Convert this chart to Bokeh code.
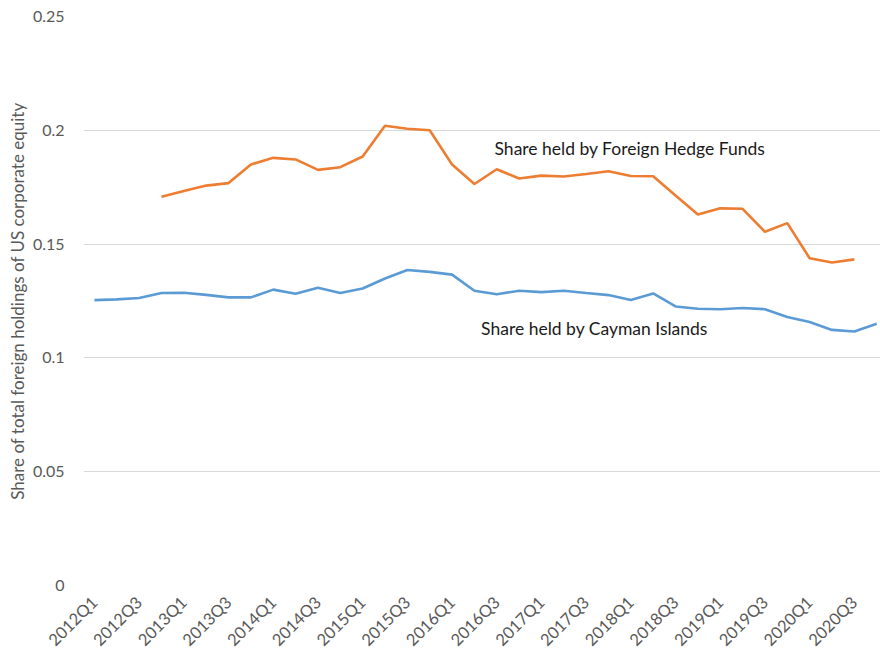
import math
from bokeh.plotting import figure
from bokeh.models import FixedTicker, Label
from bokeh.embed import file_html
from bokeh.resources import INLINE

quarters = [f"{y}Q{q}" for y in range(2012, 2021) for q in range(1, 5)]

cayman = [0.1254, 0.1257, 0.1263, 0.1285, 0.1286, 0.1277, 0.1266, 0.1266,
          0.1300, 0.1282, 0.1308, 0.1285, 0.1305, 0.1349, 0.1386, 0.1378,
          0.1366, 0.1295, 0.1280, 0.1295, 0.1289, 0.1295, 0.1285, 0.1276,
          0.1254, 0.1283, 0.1226, 0.1216, 0.1214, 0.1219, 0.1214, 0.1180,
          0.1158, 0.1123, 0.1116, 0.1150]

hedge = [None, None, None, 0.1708, 0.1733, 0.1757, 0.1768, 0.1850,
         0.1879, 0.1872, 0.1826, 0.1838, 0.1885, 0.2020, 0.2007, 0.2000,
         0.1850, 0.1764, 0.1829, 0.1788, 0.1801, 0.1797, 0.1808, 0.1820,
         0.1799, 0.1798, 0.1714, 0.1630, 0.1657, 0.1655, 0.1554, 0.1592,
         0.1438, 0.1419, 0.1433, None]

y_ticks = [0, 0.05, 0.1, 0.15, 0.2, 0.25]
y_tick_labels = ["0", "0.05", "0.1", "0.15", "0.2", "0.25"]

FONT = "Lato"
GRAY = "#595959"

idx = list(range(len(quarters)))
h_idx = [i for i, v in zip(idx, hedge) if v is not None]
h_val = [v for v in hedge if v is not None]

p = figure(width=880, height=660, output_backend="svg", toolbar_location=None,
           x_range=(-0.49, 35.17), y_range=(0, 0.25),
           min_border_left=83, min_border_top=16, min_border_right=0,
           min_border_bottom=75)
p.outline_line_color = None

p.line(idx, cayman, line_color="#5B9BD5", line_width=2.6)
p.line(h_idx, h_val, line_color="#ED7D31", line_width=2.6)

# y axis
p.yaxis.ticker = FixedTicker(ticks=y_ticks)
p.yaxis.major_label_overrides = {t: l for t, l in zip(y_ticks, y_tick_labels)}
p.yaxis.axis_line_color = None
p.yaxis.major_tick_line_color = None
p.yaxis.minor_tick_line_color = None
p.yaxis.major_tick_out = 0
p.yaxis.major_tick_in = 0
p.yaxis.minor_tick_out = 0
p.yaxis.major_label_standoff = 19
p.yaxis.major_label_text_font = FONT
p.yaxis.major_label_text_font_size = "16px"
p.yaxis.major_label_text_color = GRAY
p.yaxis.axis_label = "Share of total foreign holdings of US corporate equity"
p.yaxis.axis_label_text_font = FONT
p.yaxis.axis_label_text_font_style = "normal"
p.yaxis.axis_label_text_font_size = "17px"
p.yaxis.axis_label_text_color = GRAY
p.yaxis.axis_label_standoff = 2

# x axis
xt = list(range(0, len(quarters), 2))
p.xaxis.ticker = FixedTicker(ticks=xt)
p.xaxis.major_label_overrides = {i: quarters[i] for i in xt}
p.xaxis.major_label_orientation = math.pi / 4
p.xaxis.axis_line_color = None
p.xaxis.major_tick_line_color = None
p.xaxis.minor_tick_line_color = None
p.xaxis.major_tick_out = 0
p.xaxis.major_tick_in = 0
p.xaxis.minor_tick_out = 0
p.xaxis.major_label_standoff = 14
p.xaxis.major_label_text_font = FONT
p.xaxis.major_label_text_font_size = "16.5px"
p.xaxis.major_label_text_color = GRAY

p.xgrid.grid_line_color = None
p.ygrid.grid_line_color = "#d9d9d9"
p.ygrid.grid_line_width = 1

p.add_layout(Label(x=17.9, y=0.1921, text="Share held by Foreign Hedge Funds",
                   text_font=FONT, text_font_size="17.5px", text_color="#1a1a1a",
                   text_baseline="middle"))
p.add_layout(Label(x=17.3, y=0.1127, text="Share held by Cayman Islands",
                   text_font=FONT, text_font_size="17.5px", text_color="#1a1a1a",
                   text_baseline="middle"))

open("out.html", "w").write(file_html(p, INLINE))
